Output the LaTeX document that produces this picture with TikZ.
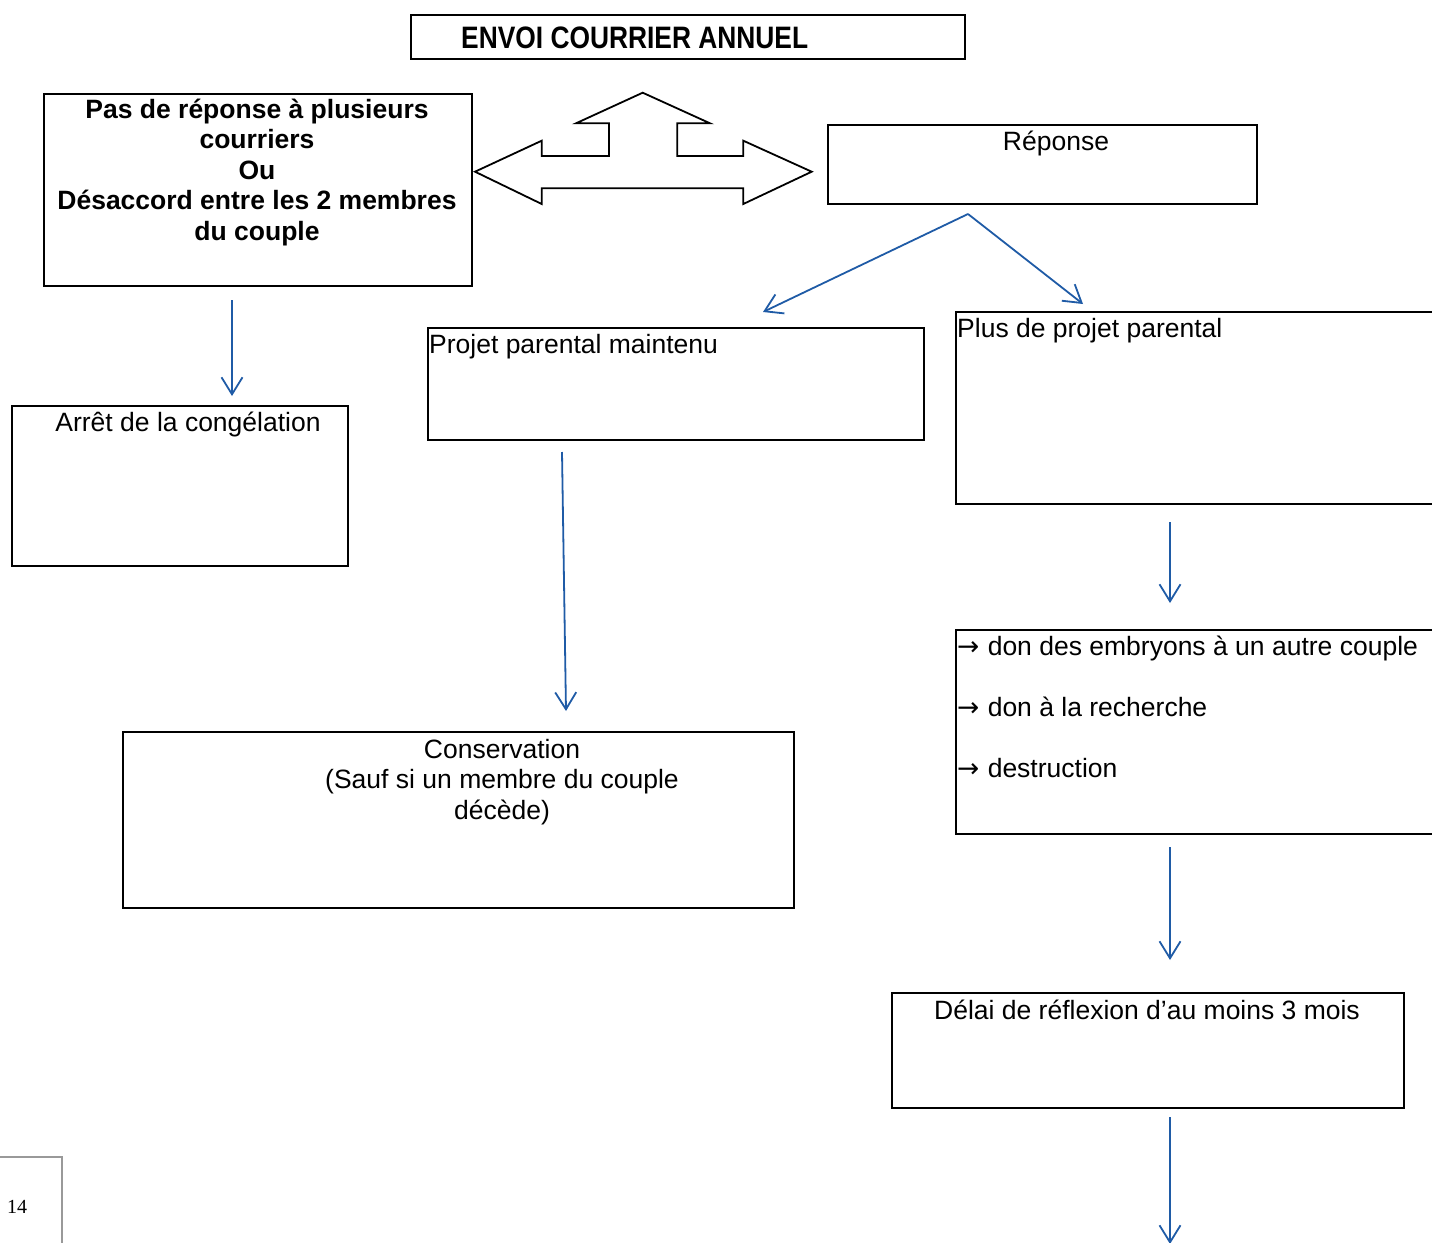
\documentclass[tikz,border=0pt]{standalone}
\usepackage{fontspec}
\setmainfont{Liberation Sans}
\newfontfamily\narrowfont[FakeStretch=0.85]{Liberation Sans}
\newfontfamily\timesfont{Liberation Serif}
\newfontfamily\symfont{DejaVu Sans}
\usetikzlibrary{arrows.meta}
\definecolor{arrowblue}{RGB}{31,91,166}
\begin{document}
\begin{tikzpicture}[x=1pt,y=-1pt,
  font=\fontsize{26.5}{30.5}\selectfont,
  box/.style={draw=black,line width=1.8pt,rectangle,inner sep=0pt,anchor=north west},
  txt/.style={inner sep=0pt,anchor=base},
  txtl/.style={inner sep=0pt,anchor=base west,align=left},
  conn/.style={draw=arrowblue,line width=1.8pt,-{Straight Barb[length=17pt,width=21pt,line width=1.8pt]}}]
\useasboundingbox (0,0) rectangle (1432,1242);
\clip (0,0) rectangle (1432,1242);
% boxes
\node[box,minimum width=554pt,minimum height=44pt] (title) at (410,14) {};
\node[box,minimum width=428pt,minimum height=192pt] (nores) at (43,93) {};
\node[box,minimum width=429pt,minimum height=79pt] (reponse) at (827,124) {};
\node[box,minimum width=496pt,minimum height=112pt] (maintenu) at (427,327) {};
\node[box,minimum width=500pt,minimum height=192pt] (plus) at (955,311) {};
\node[box,minimum width=336pt,minimum height=160pt] (arret) at (11,405) {};
\node[box,minimum width=671pt,minimum height=176pt] (conserv) at (122,731) {};
\node[box,minimum width=500pt,minimum height=204pt] (options) at (955,629) {};
\node[box,minimum width=512pt,minimum height=115pt] (delai) at (891,992) {};
% texts (multi-line nodes: base anchor = baseline of last line)
\node[inner sep=0pt,anchor=base west,font=\narrowfont\bfseries\fontsize{31}{36}\selectfont] (titletxt) at (461,48) {ENVOI COURRIER ANNUEL};
\node[txt,align=center,font=\bfseries\fontsize{26.5}{30.5}\selectfont] (norestxt) at (257,240) {Pas de réponse à plusieurs\\courriers\\Ou\\Désaccord entre les 2 membres\\du couple};
\node[txt] (reponsetxt) at (1056,150) {Réponse};
\node[txtl] (maintenutxt) at (429,353) {Projet parental maintenu};
\node[txtl] (plustxt) at (957,337) {Plus de projet parental};
\node[txt] (arrettxt) at (188,431) {Arrêt de la congélation};
\node[txt,align=center] (conservtxt) at (502,819) {Conservation\\(Sauf si un membre du couple\\décède)};
\node[txtl,font=\fontsize{26.5}{61}\selectfont] (optionstxt) at (957,777) {{\symfont →}\kern1pt\ don des embryons à un autre couple\\{\symfont →}\kern1pt\ don à la recherche\\{\symfont →}\kern1pt\ destruction};
\node[txt] (delaitxt) at (1147,1019) {Délai de réflexion d’au moins 3 mois};
% page number
\draw[draw=gray!80,line width=1.5pt] (0,1157) -- (62,1157) -- (62,1250);
\node[inner sep=0pt,anchor=base west,font=\timesfont\fontsize{20}{24}\selectfont] (pagenum) at (7,1213) {14};
% three-way block arrow
\draw[line width=1.8pt,line join=miter] (475,171.7) -- (541.7,140.7) -- (541.7,156) -- (609,156) -- (609,123.3) -- (576,123.3) -- (642.7,92.7) -- (710,123.3) -- (677.3,123.3) -- (677.3,156) -- (743.3,156) -- (743.3,140.7) -- (811.7,171.7) -- (743.3,204) -- (743.3,188.3) -- (541.7,188.3) -- (541.7,204) -- cycle;
% connectors
\coordinate (r0) at (968,214);
\coordinate (r1) at (763,312);
\coordinate (r2) at (1083,304);
\coordinate (a0) at (232,300);
\coordinate (a1) at (232,396);
\coordinate (m0) at (562,452);
\coordinate (m1) at (566,711);
\coordinate (p0) at (1170,522);
\coordinate (p1) at (1170,603);
\coordinate (o0) at (1170,847);
\coordinate (o1) at (1170,960);
\coordinate (d0) at (1170,1117);
\coordinate (d1) at (1170,1244);
\draw[conn] (r0) -- (r1);
\draw[conn] (r0) -- (r2);
\draw[conn] (a0) -- (a1);
\draw[conn] (m0) -- (m1);
\draw[conn] (p0) -- (p1);
\draw[conn] (o0) -- (o1);
\draw[conn] (d0) -- (d1);
\end{tikzpicture}
\end{document}
